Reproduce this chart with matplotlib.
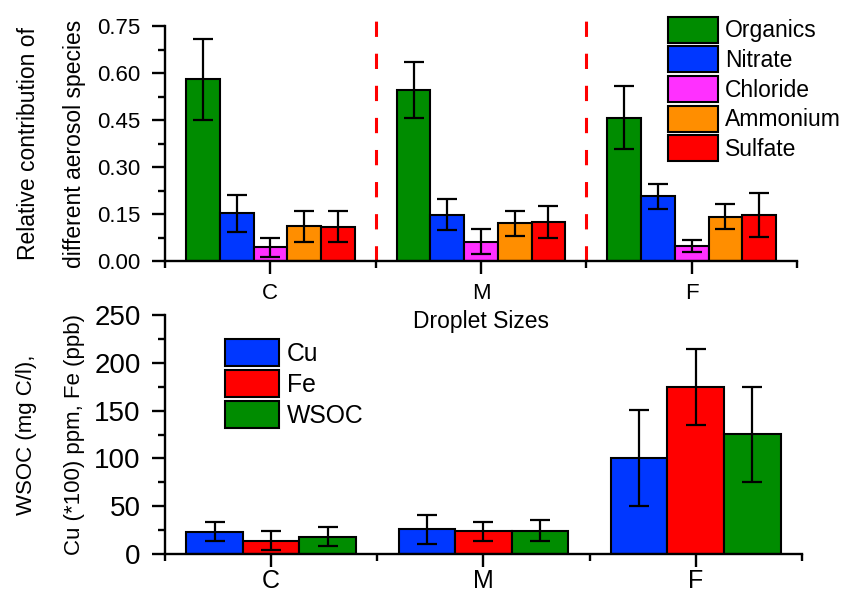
import numpy as np
import matplotlib
matplotlib.use("Agg")
import matplotlib.pyplot as plt
from matplotlib.ticker import MultipleLocator, FixedLocator

plt.rcParams['font.family'] = ['Liberation Sans', 'DejaVu Sans']

sizes = ['C', 'M', 'F']

# top panel: relative contribution of species
species = ['Organics', 'Nitrate', 'Chloride', 'Ammonium', 'Sulfate']
species_colors = ['#008C00', '#0037FF', '#FF30FF', '#FF8E00', '#FF0000']
organics = [0.58, 0.546, 0.457]
nitrate = [0.152, 0.148, 0.206]
chloride = [0.044, 0.061, 0.048]
ammonium = [0.111, 0.120, 0.141]
sulfate = [0.110, 0.124, 0.146]
organics_err = [0.13, 0.09, 0.10]
nitrate_err = [0.06, 0.05, 0.04]
chloride_err = [0.03, 0.04, 0.02]
ammonium_err = [0.05, 0.04, 0.04]
sulfate_err = [0.05, 0.05, 0.07]

# bottom panel: metals and WSOC
metals = ['Cu', 'Fe', 'WSOC']
metal_colors = ['#0037FF', '#FF0000', '#008C00']
cu = [23.2, 25.9, 100.3]
fe = [13.8, 23.8, 174.5]
wsoc = [18.3, 24.5, 125.2]
cu_err = [10, 15, 50]
fe_err = [10, 10, 40]
wsoc_err = [10, 11, 50]

fig = plt.figure(figsize=(8.45, 5.94), dpi=100)
ax1 = fig.add_axes([0.1953, 0.5606, 0.748, 0.3956])
ax2 = fig.add_axes([0.1953, 0.0673, 0.7537, 0.4024])
ax2.patch.set_visible(False)

x = np.arange(1, 4)

def draw_group(ax, vals, errs, colors, labels, total=0.8, capsize=7.5):
    n = len(vals)
    w = total / n
    for i in range(n):
        xs = x - total / 2 + w * (i + 0.5)
        ax.bar(xs, vals[i], w, color=colors[i], edgecolor='black', linewidth=1.5,
               label=labels[i], zorder=2)
        ax.errorbar(xs, vals[i], yerr=errs[i], fmt='none', ecolor='black',
                    elinewidth=1.6, capsize=capsize, capthick=1.6, zorder=3)

draw_group(ax1, [organics, nitrate, chloride, ammonium, sulfate],
           [organics_err, nitrate_err, chloride_err, ammonium_err, sulfate_err],
           species_colors, species)
draw_group(ax2, [cu, fe, wsoc], [cu_err, fe_err, wsoc_err], metal_colors, metals)

for xv in [1.5, 2.5]:
    ax1.axvline(xv, ymin=0, ymax=1.02, color='#FF0000', lw=2.2,
                linestyle=(0, (5, 5.5)), clip_on=False, zorder=1)

for ax in (ax1, ax2):
    ax.set_xlim(0.5, 3.5)
    ax.set_xticks(x)
    ax.set_xticklabels(sizes)
    ax.xaxis.set_minor_locator(FixedLocator([0.5, 1.5, 2.5, 3.5]))
    ax.spines['top'].set_visible(False)
    ax.spines['right'].set_visible(False)
    ax.spines['left'].set_linewidth(1.7)
    ax.spines['bottom'].set_linewidth(1.7)
    ax.tick_params(which='major', direction='out', length=9.5, width=1.7)
    ax.tick_params(which='minor', direction='out', length=5, width=1.7)
    ax.tick_params(axis='y', which='major', pad=8)

ax1.set_ylim(0, 0.75)
ax1.yaxis.set_minor_locator(MultipleLocator(0.075))
ax1.set_yticks([0, 0.15, 0.30, 0.45, 0.60, 0.75])
ax1.set_yticklabels(['0.00', '0.15', '0.30', '0.45', '0.60', '0.75'])
ax1.tick_params(labelsize=16)
ax1.tick_params(axis='x', which='major', pad=6)
ax1.set_ylabel('Relative contribution of\ndifferent aerosol species', fontsize=16.5,
               linespacing=2.3, labelpad=8)
ax1.set_xlabel('Droplet Sizes', fontsize=16.5, labelpad=5)

ax2.set_ylim(0, 250)
ax2.yaxis.set_major_locator(MultipleLocator(50))
ax2.yaxis.set_minor_locator(MultipleLocator(25))
ax2.tick_params(axis='y', labelsize=20)
ax2.tick_params(axis='x', labelsize=18, pad=1.5)
ax2.set_ylabel('WSOC (mg C/l),\nCu (*100) ppm, Fe (ppb)', fontsize=16,
               linespacing=2.65, labelpad=7)

ax1.legend(loc='upper left', bbox_to_anchor=(0.7905, 0.972), bbox_transform=fig.transFigure,
           frameon=False, fontsize=16.5, handlelength=2.2, handleheight=1.37,
           labelspacing=0.16, handletextpad=0.3, borderpad=0, borderaxespad=0)
ax2.legend(loc='upper left', bbox_to_anchor=(0.266, 0.4298), bbox_transform=fig.transFigure,
           frameon=False, fontsize=17.8, handlelength=2.2, handleheight=1.32,
           labelspacing=0.15, handletextpad=0.3, borderpad=0, borderaxespad=0)

fig.savefig('out.png', dpi=100)
